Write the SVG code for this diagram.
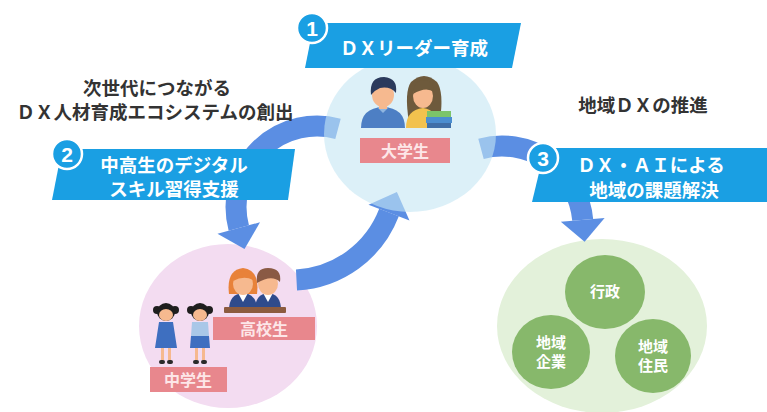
<svg xmlns="http://www.w3.org/2000/svg" width="767" height="412" viewBox="0 0 767 412">
  <style>
    .jp { font-family: "Noto Sans CJK JP", "Noto Sans", sans-serif; font-weight: 700; text-anchor: middle; }
    .bt { fill: #ffffff; font-size: 18.5px; }
    .dt { fill: #333333; font-size: 18.5px; }
    .banner { fill: #1a9fe3; }
    .badge { fill: #1a9fe3; stroke: #ffffff; stroke-width: 2.5; }
    .num { font-family: "Liberation Sans", Arial, sans-serif; font-weight: 700; font-size: 21px; fill: #ffffff; text-anchor: middle; }
    .label { fill: #e8878d; }
    .lt { fill: #fde6e8; font-size: 16px; }
    .band { fill: none; stroke: #5b8ee3; stroke-width: 21; }
    .head { fill: #5b8ee3; }
    .sub { fill: #87b86b; }
    .st { fill: #ffffff; font-size: 15px; }
    .skin { fill: #f6b98f; }
  </style>

  <rect width="767" height="412" fill="#ffffff"/>

  <!-- group circles drawn under the arrows -->
  <g id="node-school">
    <ellipse cx="228" cy="326" rx="89" ry="82" fill="#f3dcf1"/>
  </g>
  <g id="node-region">
    <ellipse cx="602" cy="326" rx="105" ry="87" fill="#e3f1da"/>
    <g id="sub-gov">
      <ellipse class="sub" cx="605" cy="292" rx="40" ry="37"/>
      <text class="jp st" x="605" y="297">行政</text>
    </g>
    <g id="sub-biz">
      <ellipse class="sub" cx="551" cy="352" rx="39" ry="37"/>
      <text class="jp st" x="551" y="348">地域</text>
      <text class="jp st" x="551" y="367">企業</text>
    </g>
    <g id="sub-res">
      <ellipse class="sub" cx="653" cy="356" rx="38" ry="37"/>
      <text class="jp st" x="653" y="352">地域</text>
      <text class="jp st" x="653" y="371">住民</text>
    </g>
  </g>

  <!-- connectors -->
  <g id="connectors">
    <path class="band" d="M338,128.8 A81,81 0 0 0 238.8,228"/>
    <polygon class="head" points="260,222.3 244.5,249 217.5,233.7"/>
    <path class="band" d="M296.5,279.9 A105,105 0 0 0 389,212.6"/>
    <polygon class="head" points="409.5,220.5 396.9,192.1 368.5,204.7"/>
    <path class="band" d="M481,148.8 A81,81 0 0 1 582.7,219.9"/>
    <polygon class="head" points="604.6,218 584.6,241.8 560.8,221.8"/>
  </g>

  <!-- university node: translucent disc over the arrow ends -->
  <g id="node-university">
    <ellipse cx="410" cy="134" rx="86" ry="78" fill="#c5e6f3" opacity="0.6"/>
    <!-- boy -->
    <path d="M361,128 Q361,108 383,107 Q405,108 405,128 Z" fill="#4d7fc4"/>
    <path d="M377,107 L383,113 L389,107 Z" fill="#8fb5e0"/>
    <rect class="skin" x="379" y="101" width="8" height="8"/>
    <ellipse class="skin" cx="383" cy="95" rx="11" ry="12"/>
    <path d="M371,95 Q369,77 384,77 Q398,78 396,93 Q390,86 380,88 Q375,90 371,95 Z" fill="#2b3a5c"/>
    <!-- girl -->
    <path d="M409,122 Q404,92 411,82 Q424,70 437,82 Q444,92 440,120 Z" fill="#6e5a3c"/>
    <path d="M406,128 Q406,110 423,108 Q438,110 439,128 Z" fill="#f2c24e"/>
    <ellipse class="skin" cx="423" cy="96" rx="10" ry="12"/>
    <path d="M413,94 Q414,80 424,80 Q434,81 434,92 Q426,86 413,94 Z" fill="#6e5a3c"/>
    <rect x="427" y="111" width="24" height="6" fill="#7cc46a"/>
    <rect x="426" y="117" width="26" height="6" fill="#4b8ed0"/>
    <rect x="427" y="123" width="24" height="5" fill="#3f6fa8"/>
    <rect class="label" x="360" y="138" width="90" height="25"/>
    <text class="jp lt" x="405" y="157">大学生</text>
  </g>

  <!-- banners -->
  <g id="step-1">
    <polygon class="banner" points="314,23 521,23 512,68 305,68"/>
    <text class="jp bt" x="414" y="55">ＤＸリーダー育成</text>
    <circle class="badge" cx="312" cy="28" r="15"/>
    <text class="num" x="312" y="35.5">1</text>
  </g>
  <g id="step-2">
    <polygon class="banner" points="62,149 295,149 288,200 52,200"/>
    <text class="jp bt" x="174" y="172">中高生のデジタル</text>
    <text class="jp bt" x="174" y="196">スキル習得支援</text>
    <circle class="badge" cx="67" cy="154" r="15"/>
    <text class="num" x="67" y="161.5">2</text>
  </g>
  <g id="step-3">
    <polygon class="banner" points="545,148 767,148 767,202 532,202"/>
    <text class="jp bt" x="651" y="172">ＤＸ・ＡＩによる</text>
    <text class="jp bt" x="654" y="197">地域の課題解決</text>
    <circle class="badge" cx="543" cy="158" r="15"/>
    <text class="num" x="543" y="165.5">3</text>
  </g>

  <!-- captions -->
  <g id="caption-left">
    <text class="jp dt" x="157" y="95">次世代につながる</text>
    <text class="jp dt" x="155" y="119">ＤＸ人材育成エコシステムの創出</text>
  </g>
  <g id="caption-right">
    <text class="jp dt" x="643" y="112">地域ＤＸの推進</text>
  </g>

  <!-- school pupils -->
  <g id="pupils-high">
    <path d="M229,310 Q229,294 243,293 Q257,294 257,310 Z" fill="#2f4b8c"/>
    <path d="M238,293 L243,302 L248,293 Z" fill="#ffffff"/>
    <path d="M229,294 Q226,270 243,268 Q260,270 257,294 Z" fill="#e8823a"/>
    <ellipse class="skin" cx="243" cy="284" rx="10" ry="11"/>
    <path d="M233,281 Q235,270 244,271 Q253,272 253,280 Q244,275 233,281 Z" fill="#e8823a"/>
    <path d="M255,310 Q255,294 268,293 Q281,294 281,310 Z" fill="#2f4b8c"/>
    <path d="M263,293 L268,302 L273,293 Z" fill="#ffffff"/>
    <ellipse class="skin" cx="268" cy="284" rx="10" ry="11"/>
    <path d="M257,283 Q255,268 268,268 Q282,268 280,282 Q272,274 257,283 Z" fill="#8a5a44"/>
    <rect x="224" y="307" width="62" height="6" rx="1" fill="#8c5b3f"/>
    <rect class="label" x="213" y="317" width="102" height="23"/>
    <text class="jp lt" x="264" y="335">高校生</text>
  </g>
  <g id="pupils-middle">
    <!-- left pupil -->
    <circle cx="157" cy="310" r="4" fill="#1e1e1e"/>
    <circle cx="175" cy="310" r="4" fill="#1e1e1e"/>
    <ellipse cx="166" cy="312" rx="9" ry="9" fill="#1e1e1e"/>
    <ellipse class="skin" cx="166" cy="315" rx="7" ry="6"/>
    <path d="M159,322 L173,322 L177,348 L155,348 Z" fill="#3e6fc0"/>
    <rect class="skin" x="161" y="348" width="3" height="12"/>
    <rect class="skin" x="168" y="348" width="3" height="12"/>
    <rect x="159" y="360" width="6" height="4" rx="2" fill="#2a2a2a"/>
    <rect x="167" y="360" width="6" height="4" rx="2" fill="#2a2a2a"/>
    <!-- right pupil -->
    <circle cx="191" cy="310" r="4" fill="#1e1e1e"/>
    <circle cx="209" cy="310" r="4" fill="#1e1e1e"/>
    <ellipse cx="200" cy="312" rx="9" ry="9" fill="#1e1e1e"/>
    <ellipse class="skin" cx="200" cy="315" rx="7" ry="6"/>
    <path d="M192,322 L208,322 L209,336 L191,336 Z" fill="#a9c7e8"/>
    <path d="M191,336 L209,336 L210,348 L190,348 Z" fill="#3e6fc0"/>
    <rect class="skin" x="195" y="348" width="3" height="12"/>
    <rect class="skin" x="202" y="348" width="3" height="12"/>
    <rect x="193" y="360" width="6" height="4" rx="2" fill="#2a2a2a"/>
    <rect x="201" y="360" width="6" height="4" rx="2" fill="#2a2a2a"/>
    <rect class="label" x="150" y="367" width="77" height="25"/>
    <text class="jp lt" x="188" y="386">中学生</text>
  </g>
</svg>
